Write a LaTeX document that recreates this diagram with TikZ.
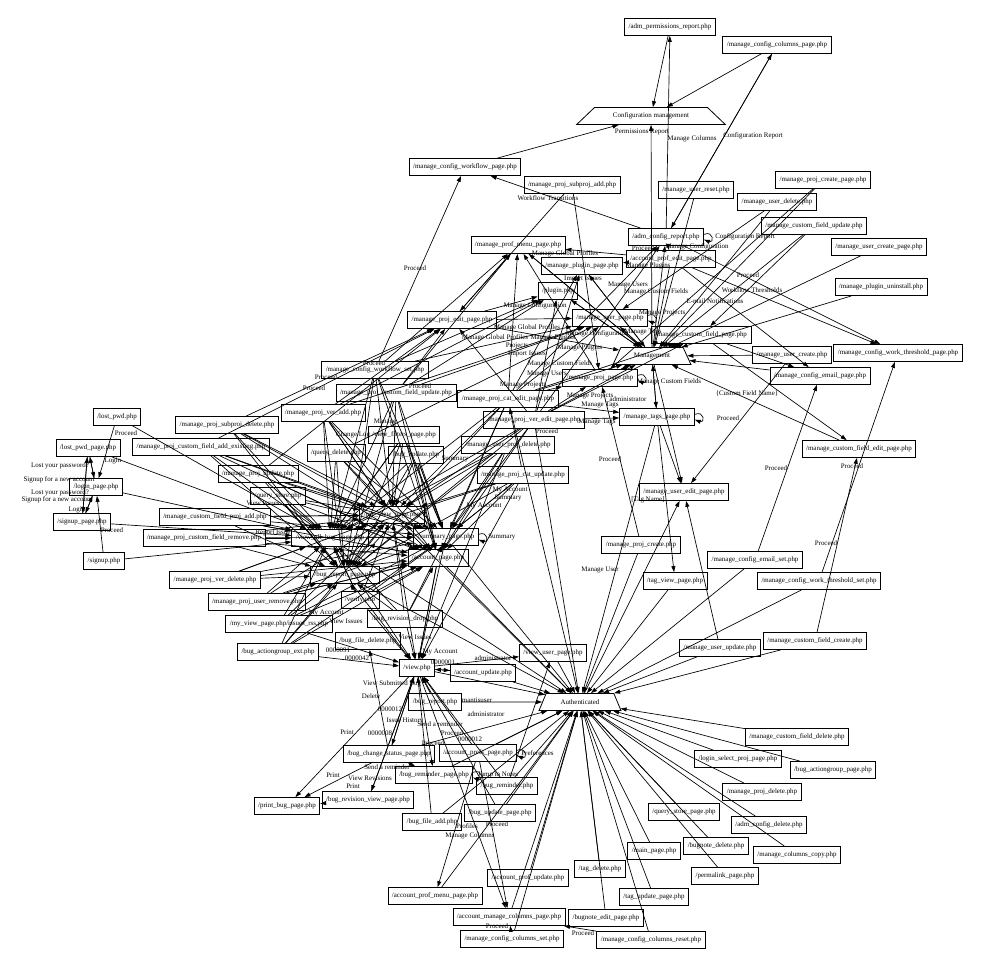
\documentclass[tikz,border=0pt]{standalone}
\usepackage{fontspec}
\setmainfont{Liberation Serif}
\usetikzlibrary{arrows.meta, shapes.geometric}

\begin{document}
\begin{tikzpicture}[
  x=0.75pt, y=-0.75pt,
  >={Triangle[length=4.5pt, width=3pt]},
  every node/.style={font=\fontsize{5.2}{6}\selectfont},
  box/.style={draw, line width=0.6pt, inner xsep=3pt, inner ysep=0pt, minimum height=12.75pt},
  hub/.style={draw, line width=0.6pt, trapezium, trapezium stretches=true, inner sep=0pt, minimum height=12.75pt},
  lbl/.style={inner sep=0pt},
  edge/.style={->, line width=0.5pt},
]
\useasboundingbox (0,0) rectangle (981,969);

\node[box] (admperm)   at (670,27)  {/adm\_permissions\_report.php};
\node[box] (cfgcols)   at (777,45)  {/manage\_config\_columns\_page.php};
\node[hub, minimum width=111.75pt, trapezium angle=28] (cfgmgmt) at (651,116) {Configuration management};
\node[box] (cfgwf)     at (465,167) {/manage\_config\_workflow\_page.php};
\node[box] (subadd)    at (572,185) {/manage\_proj\_subproj\_add.php};
\node[box] (ureset)    at (696,190) {/manage\_user\_reset.php};
\node[box] (cfgreport) at (666,237) {/adm\_config\_report.php};
\node[box] (profmenu)  at (518,245) {/manage\_prof\_menu\_page.php};
\node[box] (profedit)  at (671,259) {/account\_prof\_edit\_page.php};
\node[box] (plugpage)  at (582,266) {/manage\_plugin\_page.php};
\node[box] (plugin)    at (558,291) {/plugin.php};
\node[box] (userpage)  at (610,318) {/manage\_user\_page.php};
\node[box] (projedit)  at (452,320) {/manage\_proj\_edit\_page.php};
\node[box] (cfpage)    at (701,335) {/manage\_custom\_field\_page.php};
\node[hub, minimum width=58.5pt, trapezium angle=53] (mgmt) at (652,356) {Management};
\node[box] (projpage)  at (600,378) {/manage\_proj\_page.php};
\node[box] (cateditp)  at (508,399) {/manage\_proj\_cat\_edit\_page.php};
\node[box] (vereditp)  at (534,420) {/manage\_proj\_ver\_edit\_page.php};
\node[box] (tagspage)  at (657,417) {/manage\_tags\_page.php};
\node[box] (udelete)   at (777,202) {/manage\_user\_delete.php};
\node[box] (pcreatep)  at (823,180) {/manage\_proj\_create\_page.php};
\node[box] (cfupdate)  at (814,226) {/manage\_custom\_field\_update.php};
\node[box] (ucreatep)  at (879,247) {/manage\_user\_create\_page.php};
\node[box] (pluninst)  at (881,287) {/manage\_plugin\_uninstall.php};
\node[box] (wtpage)    at (898,353) {/manage\_config\_work\_threshold\_page.php};
\node[box] (ucreate)   at (792,355) {/manage\_user\_create.php};
\node[box] (emailpage) at (820,376) {/manage\_config\_email\_page.php};
\node[box] (cfeditp)   at (859,449) {/manage\_custom\_field\_edit\_page.php};
\node[box] (ueditp)    at (684,492) {/manage\_user\_edit\_page.php};
\node[box] (pcreate)   at (641,545) {/manage\_proj\_create.php};
\node[box] (emailset)  at (755,560) {/manage\_config\_email\_set.php};
\node[box] (tagview)   at (675,581) {/tag\_view\_page.php};
\node[box] (wtset)     at (819,581) {/manage\_config\_work\_threshold\_set.php};
\node[box] (uupdate)   at (720,648) {/manage\_user\_update.php};
\node[box] (cfcreate)  at (815,641) {/manage\_custom\_field\_create.php};
\node[hub, minimum width=61.5pt, trapezium angle=50] (auth) at (580,702) {Authenticated};
\node[box] (viewuser)  at (553,653) {/view\_user\_page.php};
\node[box] (accupdate) at (483,673) {/account\_update.php};
\node[box] (view)      at (417,668) {/view.php};
\node[box] (bugreport) at (435,702) {/bug\_report.php};
\node[box] (chstatus)  at (389,754) {/bug\_change\_status\_page.php};
\node[box] (prefs)     at (478,753) {/account\_prefs\_page.php};
\node[box] (remindp)   at (434,775) {/bug\_reminder\_page.php};
\node[box] (remind)    at (507,786) {/bug\_reminder.php};
\node[box] (revview)   at (368,800) {/bug\_revision\_view\_page.php};
\node[box] (printbug)  at (287,806) {/print\_bug\_page.php};
\node[box] (updatep)   at (500,813) {/bug\_update\_page.php};
\node[box] (fileadd)   at (432,822) {/bug\_file\_add.php};
\node[box] (profmenup) at (435,896) {/account\_prof\_menu\_page.php};
\node[box] (profupd)   at (528,878) {/account\_prof\_update.php};
\node[box] (mancols)   at (509,917) {/account\_manage\_columns\_page.php};
\node[box] (colsset)   at (512,939) {/manage\_config\_columns\_set.php};
\node[box] (bneditp)   at (606,918) {/bugnote\_edit\_page.php};
\node[box] (colsreset) at (651,940) {/manage\_config\_columns\_reset.php};
\node[box] (tagdel)    at (600,869) {/tag\_delete.php};
\node[box] (tagupd)    at (654,897) {/tag\_update\_page.php};
\node[box] (mainp)     at (654,851) {/main\_page.php};
\node[box] (qstorep)   at (684,812) {/query\_store\_page.php};
\node[box] (bndel)     at (716,846) {/bugnote\_delete.php};
\node[box] (permalink) at (725,876) {/permalink\_page.php};
\node[box] (cfgdel)    at (769,825) {/adm\_config\_delete.php};
\node[box] (colscopy)  at (797,855) {/manage\_columns\_copy.php};
\node[box] (pdelete)   at (762,792) {/manage\_proj\_delete.php};
\node[box] (selproj)   at (738,759) {/login\_select\_proj\_page.php};
\node[box] (agpage)    at (833,770) {/bug\_actiongroup\_page.php};
\node[box] (cfdelete)  at (797,737) {/manage\_custom\_field\_delete.php};
\node[box] (lostpwd)   at (117,417) {/lost\_pwd.php};
\node[box] (lostpwdp)  at (88,448)  {/lost\_pwd\_page.php};
\node[box] (loginp)    at (96,487)  {/login\_page.php};
\node[box] (signupp)   at (82,522)  {/signup\_page.php};
\node[box] (signup)    at (104,561) {/signup.php};
\node[box] (subdel)    at (227,425) {/manage\_proj\_subproj\_delete.php};
\node[box] (cfaddex)   at (201,447) {/manage\_proj\_custom\_field\_add\_existing.php};
\node[box] (veradd)    at (323,413) {/manage\_proj\_ver\_add.php};
\node[box] (wfset)     at (375,370) {/manage\_config\_workflow\_set.php};
\node[box] (pcfupd)    at (396,393) {/manage\_proj\_custom\_field\_update.php};
\node[box] (projupd)   at (258,474) {/manage\_proj\_update.php};
\node[box] (qstore)    at (278,496) {/query\_store.php};
\node[box] (cfpadd)    at (215,517) {/manage\_custom\_field\_proj\_add.php};
\node[box] (pcfrem)    at (204,538) {/manage\_proj\_custom\_field\_remove.php};
\node[box] (verdel)    at (215,580) {/manage\_proj\_ver\_delete.php};
\node[box] (uremove)   at (257,602) {/manage\_proj\_user\_remove.php};
\node[box] (rss)       at (279,624) {/my\_view\_page.php/issues\_rss.php};
\node[box] (agext)     at (278,652) {/bug\_actiongroup\_ext.php};
\node[box] (filedel)   at (368,641) {/bug\_file\_delete.php};
\node[box] (revdrop)   at (405,619) {/bug\_revision\_drop.php};
\node[box] (qdelete)   at (336,453) {/query\_delete.php};
\node[box] (filters)   at (404,435) {/view\_filters\_page.php};
\node[box] (bugupd)    at (416,455) {/bug\_update.php};
\node[box] (catupd)    at (523,475) {/manage\_proj\_cat\_update.php};
\node[box] (uprojdel)  at (508,445) {/manage\_user\_proj\_delete.php};
\node[box] (summary)   at (446,537) {/summary\_page.php};
\node[box] (accpage)   at (438,558) {/account\_page.php};
\node[box] (allbug)    at (330,538) {/view\_all\_bug\_page.php};
\node[box] (myview)    at (392,515) {/my\_view\_page.php};
\node[box] (bugrepp)   at (345,575) {/bug\_report\_page.php};
\node[box] (verify)    at (360,600) {/verify.php};

\draw[edge] (admperm) -- (cfgmgmt);
\draw[edge] (cfgreport) -- (admperm) node[lbl] at (642,132) {Permissions Report};
\draw[edge] (cfgcols) -- (cfgmgmt);
\draw[edge] (cfgreport) -- (cfgcols) node[lbl] at (753,136) {Configuration Report};
\draw[edge] (cfgcols) -- (cfgreport) node[lbl] at (692,139) {Manage Columns};
\draw[edge] (mgmt) -- (cfgmgmt);
\draw[edge] (cfgwf) -- (cfgmgmt);
\draw[edge] (cfgreport) -- (cfgwf) node[lbl] at (548,198) {Workflow Transitions};
\draw[edge] (wfset) -- (cfgwf) node[lbl] at (415,268) {Proceed};
\draw[edge] ([yshift=2pt]cfgreport.east) .. controls +(10,-4) and +(10,4) .. ([yshift=-2pt]cfgreport.east) node[lbl, anchor=west] at (715,237) {Configuration Report};
\draw[edge] (ureset) -- (mgmt);
\draw[edge] (subadd) -- (projedit);
\draw[edge] (subadd) -- (projpage);
\draw[edge] (cfgreport) -- (profedit) node[lbl] at (643,248) {Proceed};
\draw[edge] (mgmt) -- (cfgreport) node[lbl] at (697,247) {Manage Configuration};
\draw[edge] (profedit) -- (profmenu);
\draw[edge] (profedit) -- (plugpage);
\draw[edge] (mgmt) -- (profmenu) node[lbl] at (565,254) {Manage Global Profiles};
\draw[edge] (mgmt) -- (plugpage) node[lbl] at (648,266) {Manage Plugins};
\draw[edge] (mgmt) -- (plugin) node[lbl] at (583,279) {Import Issues};
\draw[edge] (mgmt) -- (userpage) node[lbl] at (628,285) {Manage Users};
\draw[edge] (mgmt) -- (cfpage) node[lbl] at (656,292) {Manage Custom Fields};
\draw[edge] (mgmt) -- (projpage) node[lbl] at (662,313) {Manage Projects};
\draw[edge] (mgmt) -- (tagspage) node[lbl] at (643,332) {Manage Tags};
\draw[edge] (profedit) -- (emailpage) node[lbl] at (715,301) {E-mail Notifications};
\draw[edge] (profedit) -- (wtpage) node[lbl] at (748,275) {Proceed};
\draw[edge] (cfgreport) -- (wtpage) node[lbl] at (752,290) {Workflow Thresholds};
\foreach \s in {udelete, pcreatep, cfupdate, ucreatep, pluninst, ucreate, emailpage, cfeditp, profedit, userpage, plugpage, plugin, profmenu, cfpage, projpage, tagspage, projedit, cateditp}
  \draw[edge] (\s) -- (mgmt);
\draw[edge] (cfupdate) -- (cfpage);
\draw[edge] (udelete) -- (userpage);
\draw[edge] (pcreatep) -- (projpage);
\draw[edge] (cfpage) -- (cfeditp) node[lbl] at (747,394) {\{Custom Field Name\}};
\draw[edge] (cfpage) -- (emailpage);
\draw[edge] (ucreate) -- (ueditp) node[lbl] at (728,418) {Proceed};
\draw[edge] (emailset) -- (emailpage) node[lbl] at (776,468) {Proceed};
\draw[edge] (wtset) -- (wtpage) node[lbl] at (826,543) {Proceed};
\draw[edge] (cfcreate) -- (cfeditp) node[lbl] at (852,466) {Proceed};
\draw[edge] (uupdate) -- (ueditp);
\draw[edge] (tagspage) -- (ueditp);
\draw[edge] (mgmt) -- (ueditp);
\draw[edge] (tagspage) -- (tagview) node[lbl] at (648,500) {[Tag Name]};
\draw[edge] (pcreate) -- (projpage) node[lbl] at (610,459) {Proceed};
\draw[edge] (auth) -- (ueditp) node[lbl] at (600,570) {Manage User};
\draw[edge] ([yshift=2pt]tagspage.east) .. controls +(10,-4) and +(10,4) .. ([yshift=-2pt]tagspage.east);
\draw[edge] ([yshift=2pt]userpage.east) .. controls +(10,-4) and +(10,4) .. ([yshift=-2pt]userpage.east);
\draw[edge] ([yshift=2pt]projpage.east) .. controls +(10,-4) and +(10,4) .. ([yshift=-2pt]projpage.east);

\draw[edge] (projpage) -- (profmenu) node[lbl] at (527,328) {Manage Global Profiles};
\draw[edge] (cateditp) -- (profmenu) node[lbl] at (495,338) {Manage Global Profiles};
\draw[edge] (cateditp) -- (plugpage) node[lbl] at (553,338) {Manage Plugins};
\draw[edge] (vereditp) -- (cfgreport) node[lbl] at (597,334) {Manage Configuration};
\draw[edge] (cateditp) -- (cfgreport) node[lbl] at (535,306) {Manage Configuration};
\draw[edge] (vereditp) -- (projedit) node[lbl] at (517,346) {Projects};
\draw[edge] (vereditp) -- (plugin) node[lbl] at (527,354) {Import Issues};
\draw[edge] (vereditp) -- (plugpage) node[lbl] at (580,348) {Manage Plugins};
\draw[edge] (cateditp) -- (cfpage) node[lbl] at (560,364) {Manage Custom Fields};
\draw[edge] (cateditp) -- (userpage) node[lbl] at (547,374) {Manage Users};
\draw[edge] (cateditp) -- (projpage) node[lbl] at (523,385) {Manage Projects};
\draw[edge] (vereditp) -- (cfpage) node[lbl] at (669,382) {Manage Custom Fields};
\draw[edge] (vereditp) -- (projpage) node[lbl] at (590,396) {Manage Projects};
\draw[edge] (vereditp) -- (mgmt) node[lbl] at (628,399) {administrator};
\draw[edge] (cateditp) -- (tagspage) node[lbl] at (600,405) {Manage Tags};
\draw[edge] (vereditp) -- (tagspage) node[lbl] at (597,422) {Manage Tags};
\draw[edge] (catupd) -- (cateditp) node[lbl] at (547,431) {Proceed};
\draw[edge] (projedit) -- (profmenu);
\draw[edge] (projedit) -- (userpage);
\draw[edge] (projedit) -- (plugin);
\foreach \s in {veradd, wfset, pcfupd}
  \draw[edge] (\s) -- (plugin);
\foreach \s in {veradd, wfset, pcfupd, qdelete}
  \draw[edge] (\s) -- (userpage);
\foreach \s in {wfset, pcfupd}
  \draw[edge] (\s) -- (profmenu);
\draw[edge] (subdel) -- (projedit) node[lbl] at (314,388) {Proceed};
\draw[edge] (cfaddex) -- (projedit) node[lbl] at (326,377) {Proceed};
\draw[edge] (veradd) -- (projedit) node[lbl] at (374,363) {Proceed};
\draw[edge] (projupd) -- (projedit);
\draw[edge] (pcfupd) -- (projedit) node[lbl] at (420,386) {Proceed};

\foreach \s in {subdel, cfaddex, veradd, wfset, pcfupd, projupd, qstore, cfpadd, pcfrem, verdel, uremove, rss, agext, qdelete, filters, bugupd, uprojdel, catupd, cateditp, vereditp, revdrop, verify}
  \foreach \t in {allbug, myview, bugrepp, summary, accpage}
    \draw[edge] (\s) -- (\t);
\foreach \s/\t in {allbug/myview, myview/allbug, allbug/summary, summary/accpage, accpage/summary, myview/bugrepp, bugrepp/accpage, bugrepp/allbug, myview/summary, accpage/allbug}
  \draw[edge] (\s) -- (\t);
\draw[edge] ([yshift=2pt]summary.east) .. controls +(10,-4) and +(10,4) .. ([yshift=-2pt]summary.east) node[lbl, anchor=west] at (488,537) {Summary};
\draw[edge] (filters) -- (allbug) node[lbl] at (353,435) {Change Log};
\draw[edge] (veradd) -- (myview) node[lbl] at (385,422) {Manage};
\draw[edge] (bugupd) -- (summary) node[lbl] at (455,459) {Summary};
\draw[edge] (catupd) -- (view) node[lbl] at (510,490) {My Account};
\draw[edge] (uprojdel) -- (view) node[lbl] at (484,506) {My Account};
\draw[edge] (catupd) -- (summary) node[lbl] at (508,498) {Summary};
\draw[edge] (verify) -- (allbug) node[lbl] at (346,621) {View Issues};
\draw[edge] (revdrop) -- (view) node[lbl] at (415,637) {View Issues};
\draw[edge] (uremove) -- (accpage) node[lbl] at (326,613) {My Account};
\draw[edge] (qstore) -- (bugrepp) node[lbl] at (273,533) {Report Issue};
\draw[edge] (cfpadd) -- (myview) node[lbl] at (263,503) {View Issues};

\draw[edge] (lostpwd) -- (loginp) node[lbl] at (126,433) {Proceed};
\draw[edge] (lostpwd) -- (allbug);
\draw[edge] (lostpwdp) -- (loginp) node[lbl] at (113,461) {Login};
\draw[edge] (loginp) -- (lostpwdp) node[lbl] at (60,466) {Lost your password?};
\draw[edge] (loginp) -- (signupp) node[lbl] at (59,480) {Signup for a new account};
\draw[edge] (signupp) -- (lostpwdp) node[lbl] at (60,493) {Lost your password?};
\draw[edge] (lostpwdp) -- (signupp) node[lbl] at (57,500) {Signup for a new account};
\draw[edge] (signupp) -- (loginp) node[lbl] at (77,510) {Login};
\draw[edge] (signup) -- (loginp) node[lbl] at (112,530) {Proceed};
\draw[edge] (lostpwdp) -- (allbug);
\draw[edge] (loginp) -- (allbug);
\draw[edge] (signupp) -- (allbug);
\draw[edge] (signup) -- (allbug);

\draw[edge] (rss) -- (view) node[lbl] at (338,650) {0000091};
\draw[edge] (agext) -- (view) node[lbl] at (357,658) {0000042};
\draw[edge] (view) -- (accupdate);
\draw[edge] (accupdate) -- (view) node[lbl] at (443,662) {0000001};
\draw[edge] (view) -- (viewuser) node[lbl] at (493,658) {administrator};
\draw[edge] (accpage) -- (view) node[lbl] at (440,652) {My Account};
\draw[edge] (bugreport) -- (view) node[lbl] at (392,684) {View Submitted Bug};
\draw[edge] (chstatus) -- (filedel) node[lbl] at (371,696) {Delete};
\draw[edge] (revview) -- (view) node[lbl] at (390,709) {0000012};
\draw[edge] (view) -- (chstatus) node[lbl] at (405,721) {Issue History};
\draw[edge] (view) -- (remindp) node[lbl] at (440,724) {Send a reminder};
\draw[edge] (view) -- (printbug) node[lbl] at (347,732) {Print};
\draw[edge] (chstatus) -- (view) node[lbl] at (380,733) {0000008};
\draw[edge] (chstatus) -- (printbug) node[lbl] at (333,775) {Print};
\draw[edge] (revview) -- (printbug) node[lbl] at (353,786) {Print};
\draw[edge] (view) -- (revview) node[lbl] at (370,778) {View Revisions};
\draw[edge] (chstatus) -- (remindp) node[lbl] at (387,767) {Send a reminder};
\draw[edge] (bugreport) -- (auth) node[lbl] at (477,700) {mantisuser};
\draw[edge] (remind) -- (view) node[lbl] at (452,733) {Proceed};
\draw[edge] (remind) -- (viewuser) node[lbl] at (486,714) {administrator};
\draw[edge] (fileadd) -- (view) node[lbl] at (433,743) {Proceed};
\draw[edge] (prefs) -- (view) node[lbl] at (470,739) {0000012};
\draw[edge] (updatep) -- (view) node[lbl] at (497,824) {Proceed};
\draw[edge] ([yshift=2pt]prefs.east) .. controls +(10,-4) and +(10,4) .. ([yshift=-2pt]prefs.east) node[lbl, anchor=west] at (521,753) {Preferences};
\draw[edge] ([yshift=2pt]remindp.east) .. controls +(10,-4) and +(10,4) .. ([yshift=-2pt]remindp.east) node[lbl] at (498,775) {Jump to Notes};
\draw[edge] (prefs) -- (profmenup) node[lbl] at (467,826) {Profiles};
\draw[edge] (prefs) -- (mancols) node[lbl] at (470,836) {Manage Columns};
\draw[edge] (view) -- (mancols);
\draw[edge] (colsset) -- (mancols) node[lbl] at (497,926) {Proceed};
\draw[edge] (colsreset) -- (mancols) node[lbl] at (583,933) {Proceed};
\foreach \s in {allbug, myview, bugrepp, summary, accpage, verify}
  \draw[edge] (\s) -- (view);
\foreach \s in {allbug, myview, bugrepp, summary, accpage, viewuser, accupdate, view, chstatus, prefs, remindp, remind, updatep, fileadd, profmenup, profupd, mancols, colsset, bneditp, colsreset, tagdel, tagupd, mainp, qstorep, bndel, permalink, cfgdel, colscopy, pdelete, selproj, agpage, cfdelete, uupdate, cfcreate, wtset, emailset, tagview, pcreate, tagspage, vereditp, cateditp}
  \draw[edge] (\s) -- (auth);
\end{tikzpicture}
\end{document}
